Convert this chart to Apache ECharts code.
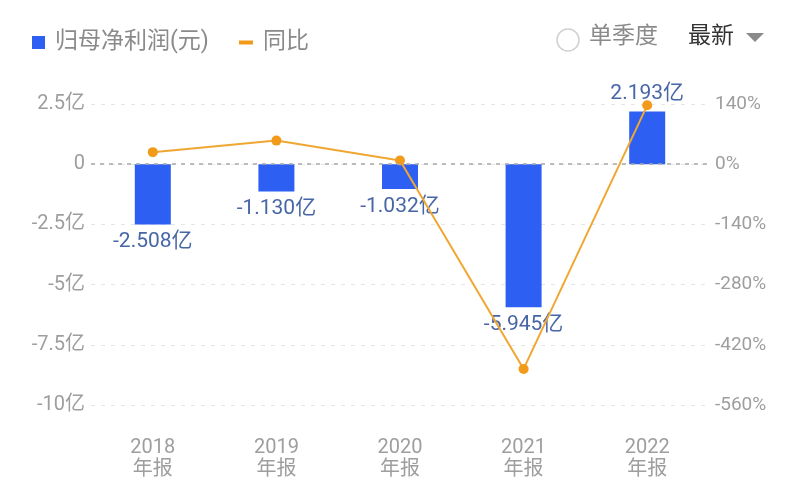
<!DOCTYPE html>
<html>
<head>
<meta charset="utf-8">
<script src="https://cdn.jsdelivr.net/npm/echarts@6/dist/echarts.min.js"></script>
<style>html,body{margin:0;padding:0;background:#fff;}#c{width:800px;height:486px;}</style>
</head>
<body>
<div id="c"></div>
<script>
const categories = ['2018\n年报', '2019\n年报', '2020\n年报', '2021\n年报', '2022\n年报'];
const profit = [-2.508, -1.130, -1.032, -5.945, 2.193];
const yoy = [28, 54.9, 8.7, -476.1, 136.9];
const leftTicks = { min: -10, max: 2.5, interval: 2.5 };
const rightTicks = { min: -560, max: 140, interval: 140 };

const FONT = 'Roboto, "Noto Sans CJK SC", sans-serif';
const chart = echarts.init(document.getElementById('c'));
chart.setOption({
  backgroundColor: '#fff',
  textStyle: { fontFamily: FONT },
  animation: false,
  legend: [
    { left: 27, top: 26, icon: 'rect', itemWidth: 13, itemHeight: 13, itemGap: 10,
      data: ['归母净利润(元)'],
      textStyle: { fontSize: 23, color: '#8a8a8a', fontFamily: FONT, padding: [0, 0, 0, 5] } },
    { left: 234, top: 26, icon: 'rect', itemWidth: 14, itemHeight: 4,
      data: ['同比'],
      textStyle: { fontSize: 23, color: '#8a8a8a', fontFamily: FONT, padding: [0, 0, 0, 5] } }
  ],
  graphic: [
    { type: 'circle', shape: { cx: 568, cy: 40, r: 11 }, style: { fill: '#fff', stroke: '#d0d0d0', lineWidth: 1.5 } },
    { type: 'text', left: 589, top: 26, style: { text: '单季度', fontSize: 23, fill: '#8a8a8a', fontFamily: FONT } },
    { type: 'text', left: 688, top: 26, style: { text: '最新', fontSize: 23, fill: '#333', fontFamily: FONT } },
    { type: 'polygon', shape: { points: [[746, 33], [764, 33], [755, 42]] }, style: { fill: '#8a8a8a' } }
  ],
  grid: { left: 91, right: 91, top: 104, bottom: 81, containLabel: false },
  xAxis: {
    type: 'category', data: categories,
    axisLine: { show: false }, axisTick: { show: false },
    axisLabel: { color: '#9e9e9e', fontSize: 20, lineHeight: 22, margin: 32, fontFamily: FONT }
  },
  yAxis: [
    { type: 'value', min: leftTicks.min, max: leftTicks.max, interval: leftTicks.interval,
      axisLine: { show: false }, axisTick: { show: false },
      axisLabel: { color: '#9e9e9e', fontSize: 20, margin: 6, fontFamily: FONT, padding: [4, 0, 0, 0],
        formatter: v => v === 0 ? '0' : v + '亿' },
      splitLine: { lineStyle: { color: '#e6e6e6', type: [4, 6], width: 1 } } },
    { type: 'value', min: rightTicks.min, max: rightTicks.max, interval: rightTicks.interval,
      axisLine: { show: false }, axisTick: { show: false },
      axisLabel: { color: '#9e9e9e', fontSize: 19, margin: 6, fontFamily: FONT, padding: [4, 0, 0, 0],
        formatter: v => v + '%' },
      splitLine: { show: false } }
  ],
  series: [
    { name: '归母净利润(元)', type: 'bar', data: profit.map(v => ({
        value: v,
        label: { position: v < 0 ? 'bottom' : 'top' } })),
      barWidth: 36, itemStyle: { color: '#2d5ff2' },
      label: { show: true, fontSize: 21, color: '#4766a6', distance: 7, fontFamily: FONT,
        formatter: p => p.value.toFixed(3) + '亿' },
      markLine: { silent: true, symbol: 'none', label: { show: false },
        lineStyle: { color: '#a8a8a8', type: [4, 5], width: 1.5 },
        data: [{ yAxis: 0 }] } },
    { name: '同比', type: 'line', yAxisIndex: 1, data: yoy,
      symbol: 'circle', symbolSize: 10,
      itemStyle: { color: '#f29a1a' }, lineStyle: { color: '#f0a732', width: 2 } }
  ]
});
</script>
</body>
</html>
